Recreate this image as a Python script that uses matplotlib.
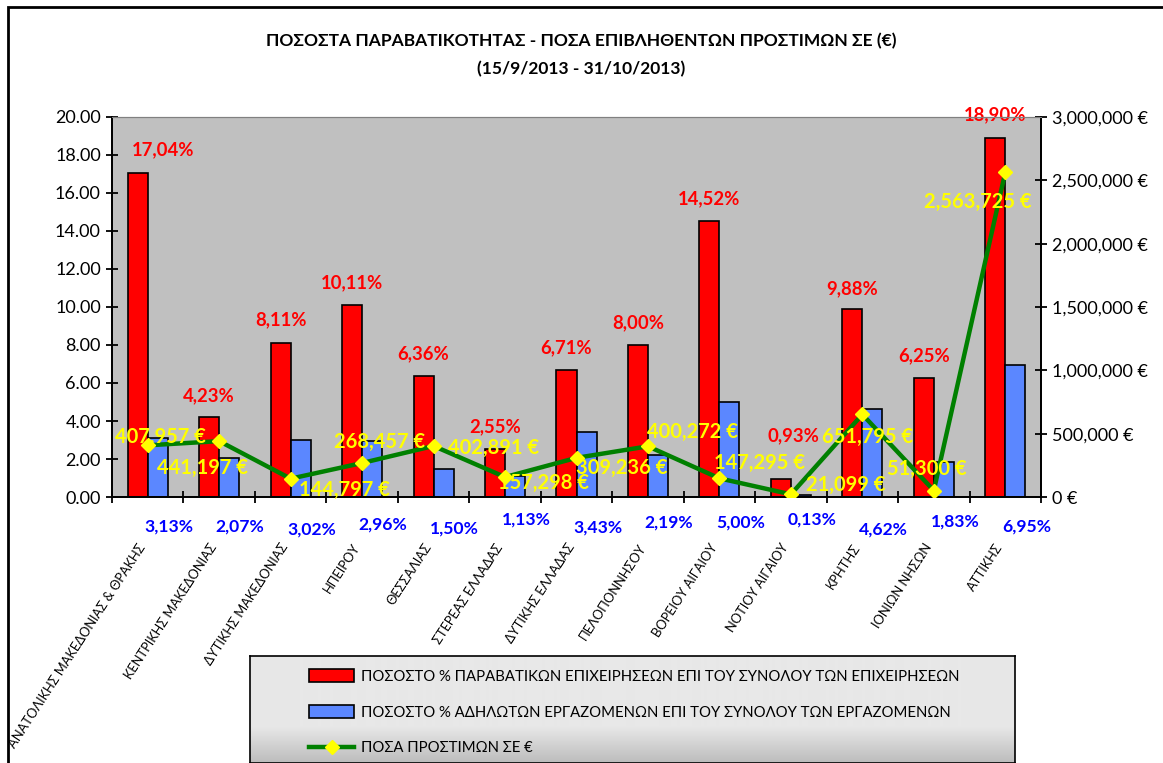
import numpy as np
import matplotlib
matplotlib.use("Agg")
import matplotlib.pyplot as plt
from matplotlib.patches import Rectangle, Patch
from matplotlib.lines import Line2D
from matplotlib.transforms import ScaledTranslation

plt.rcParams['font.family'] = ['Lato', 'DejaVu Sans']

# --- data ---
regions = ["ΑΝΑΤΟΛΙΚΗΣ ΜΑΚΕΔΟΝΙΑΣ & ΘΡΑΚΗΣ", "ΚΕΝΤΡΙΚΗΣ ΜΑΚΕΔΟΝΙΑΣ", "ΔΥΤΙΚΗΣ ΜΑΚΕΔΟΝΙΑΣ",
           "ΗΠΕΙΡΟΥ", "ΘΕΣΣΑΛΙΑΣ", "ΣΤΕΡΕΑΣ ΕΛΛΑΔΑΣ", "ΔΥΤΙΚΗΣ ΕΛΛΑΔΑΣ", "ΠΕΛΟΠΟΝΝΗΣΟΥ",
           "ΒΟΡΕΙΟΥ ΑΙΓΑΙΟΥ", "ΝΟΤΙΟΥ ΑΙΓΑΙΟΥ", "ΚΡΗΤΗΣ", "ΙΟΝΙΩΝ ΝΗΣΩΝ", "ΑΤΤΙΚΗΣ"]
pct_firms = [17.04, 4.23, 8.11, 10.11, 6.36, 2.55, 6.71, 8.00, 14.52, 0.93, 9.88, 6.25, 18.90]
pct_workers = [3.13, 2.07, 3.02, 2.96, 1.50, 1.13, 3.43, 2.19, 5.00, 0.13, 4.62, 1.83, 6.95]
fines = [407957, 441197, 144797, 268457, 402891, 157298, 309236, 400272, 147295, 21099,
         651795, 51300, 2563725]

lab_firms = "ΠΟΣΟΣΤΟ % ΠΑΡΑΒΑΤΙΚΩΝ ΕΠΙΧΕΙΡΗΣΕΩΝ ΕΠΙ ΤΟΥ ΣΥΝΟΛΟΥ ΤΩΝ ΕΠΙΧΕΙΡΗΣΕΩΝ"
lab_workers = "ΠΟΣΟΣΤΟ % ΑΔΗΛΩΤΩΝ ΕΡΓΑΖΟΜΕΝΩΝ ΕΠΙ ΤΟΥ ΣΥΝΟΛΟΥ ΤΩΝ ΕΡΓΑΖΟΜΕΝΩΝ"
lab_fines = "ΠΟΣΑ ΠΡΟΣΤΙΜΩΝ ΣΕ €"

# label offsets in pixels (dx, dy with dy downward), as placed by hand in the original
fine_off = [(13, -8), (-17, 27), (54, 11), (17, -21), (60, 2), (38, 6), (45, 10),
            (45, -14), (40, -15), (55, -9), (5, 23), (-7, -22), (-27, 30)]
red_off = [(25, 23), (0, 21), (0, 23), (0, 22), (0, 22), (0, 22), (0, 22),
           (0, 22), (0, 22), (13, 44), (0, 21), (0, 22), (0, 23)]
blue_dy = [17, 17, 20, 15, 19, 10, 18, 13, 13, 10, 20, 12, 17]

PX = 0.72  # points per pixel at dpi 100

fig = plt.figure(figsize=(11.63, 7.63), dpi=100)
ax = fig.add_axes([112/1163, 1-497/763, (1041-112)/1163, (497-117)/763])
ax2 = ax.twinx()

x = np.arange(len(regions))
w = 0.28
ax.set_facecolor('#C0C0C0')
ax.bar(x - w/2, pct_firms, w, color='#FF0000', edgecolor='black', linewidth=1.2, zorder=2)
ax.bar(x + w/2, pct_workers, w, color='#5B87FF', edgecolor='black', linewidth=1.2, zorder=2)
ax.set_xlim(-0.5, len(regions) - 0.5)
ax.set_ylim(0, 20)
ax.set_yticks(np.arange(0, 21, 2))
ax.set_yticklabels([f"{v:.2f}" for v in np.arange(0, 21, 2)], fontsize=13)
ax.set_xticks(x)
ax.set_xticklabels(regions, rotation=57, ha='right', rotation_mode='anchor', fontsize=9.3)
ax.tick_params(axis='x', which='major', length=0, pad=32)
for lbl in ax.get_xticklabels():
    lbl.set_transform(lbl.get_transform() + ScaledTranslation(-0.1, 0, fig.dpi_scale_trans))
ax.set_xticks(np.arange(-0.5, len(regions)), minor=True)
ax.tick_params(axis='x', which='minor', length=9, direction='inout', width=1.3)
ax.tick_params(axis='y', length=9, direction='inout', width=1.3)

ax2.plot(x, fines, color='#008000', linewidth=3.2, marker='D', markersize=7,
         markerfacecolor='#FFFF00', markeredgecolor='#FFFF00', zorder=3)
ax2.set_ylim(0, 3000000)
ax2.set_yticks(np.arange(0, 3000001, 500000))
ax2.set_yticklabels(["0 €"] + [f"{int(v):,} €" for v in np.arange(500000, 3000001, 500000)],
                    fontsize=13)
ax2.tick_params(axis='y', length=9, direction='inout', width=1.3)

for a in (ax, ax2):
    a.spines['top'].set_color('#808080')
    for s in ('left', 'right', 'bottom'):
        a.spines[s].set_linewidth(1.3)

# data labels
for i in x:
    ax.annotate(f"{pct_firms[i]:.2f}%".replace('.', ','), (i - w/2, pct_firms[i]),
                xytext=(red_off[i][0]*PX, red_off[i][1]*PX), textcoords='offset points',
                ha='center', va='center', color='#FF0000', fontsize=13.3, fontweight='bold',
                annotation_clip=False)
    ax.annotate(f"{pct_workers[i]:.2f}%".replace('.', ','), (i, 0),
                xytext=(21*PX, -blue_dy[i]*PX - 3), textcoords='offset points',
                ha='center', va='top', color='#0000FF', fontsize=12.6, fontweight='bold',
                annotation_clip=False)
    ax2.annotate(f"{fines[i]:,} €", (i, fines[i]),
                 xytext=(fine_off[i][0]*PX, -fine_off[i][1]*PX), textcoords='offset points',
                 ha='center', va='center', color='#FFFF00', fontsize=14.5, fontweight='bold',
                 zorder=5, annotation_clip=False)

fig.suptitle("ΠΟΣΟΣΤΑ ΠΑΡΑΒΑΤΙΚΟΤΗΤΑΣ - ΠΟΣΑ ΕΠΙΒΛΗΘΕΝΤΩΝ ΠΡΟΣΤΙΜΩΝ ΣΕ (€)\n(15/9/2013 - 31/10/2013)",
             y=1-33/763, fontsize=12.5, fontweight='bold', linespacing=1.9, va='top')

# outer frame
fig.patches.append(Rectangle((8/1163, -0.05), 1.1, 1.05 - 7/763, transform=fig.transFigure,
                             fill=False, edgecolor='black', linewidth=2))

# legend box with grey gradient at the bottom
lx0, lx1, ly0 = 250/1163, 1015/1163, 1-656/763
lax = fig.add_axes([lx0, 0, lx1 - lx0, ly0])
grad = np.concatenate([np.full(70, 0.91), np.linspace(0.91, 0.74, 37)])[:, None]
lax.imshow(grad, cmap='gray', vmin=0, vmax=1, aspect='auto', extent=(0, 1, 0, 1))
lax.set_xticks([])
lax.set_yticks([])
for s in lax.spines.values():
    s.set_linewidth(1.2)

handles = [Patch(facecolor='#FF0000', edgecolor='black', linewidth=1.2),
           Patch(facecolor='#5B87FF', edgecolor='black', linewidth=1.2),
           Line2D([], [], color='#008000', linewidth=3.2, marker='D', markersize=7,
                  markerfacecolor='#FFFF00', markeredgecolor='#FFFF00')]
fig.legend(handles, [lab_firms, lab_workers, lab_fines], loc='upper left',
           bbox_to_anchor=(302/1163, 1-662/763), frameon=False, fontsize=10.7,
           handlelength=3.0, handleheight=0.9, handletextpad=0.5, labelspacing=1.45,
           borderpad=0)

fig.savefig("out.png", dpi=100)
